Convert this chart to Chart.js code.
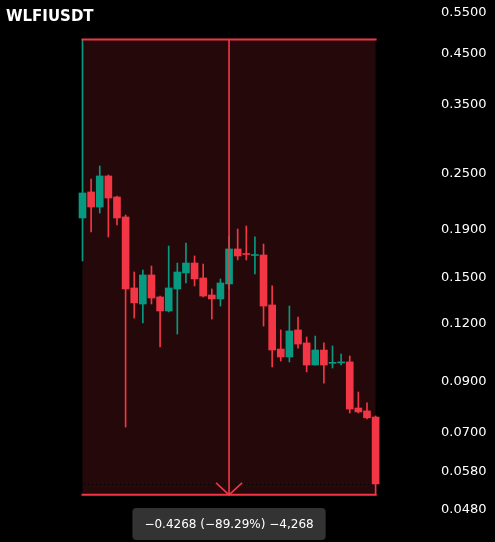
<!DOCTYPE html>
<html>
<head>
<meta charset="utf-8">
<script src="https://cdn.jsdelivr.net/npm/chart.js@4.4.1/dist/chart.umd.min.js"></script>
<style>
  html, body { margin: 0; padding: 0; background: #000; }
  #wrap { position: relative; width: 495px; height: 542px; background: #000; }
</style>
</head>
<body>
<div id="wrap"><canvas id="c"></canvas></div>
<script>
// ---- data ----
const symbol = "WLFIUSDT";
const candleIndex = [0,1,2,3,4,5,6,7,8,9,10,11,12,13,14,15,16,17,18,19,20,21,22,23,24,25,26,27,28,29,30,31,32,33,34];
const opens  = [0.1992,0.2263,0.2102,0.2448,0.2208,0.2002,0.1413,0.1306,0.1506,0.1352,0.1262,0.1406,0.1521,0.1597,0.1484,0.1365,0.1339,0.1441,0.1711,0.1673,0.1657,0.1661,0.1300,0.1047,0.1007,0.1150,0.1079,0.0968,0.1042,0.0976,0.0978,0.0983,0.0784,0.0773,0.0750];
const highs  = [0.4780,0.2412,0.2571,0.2460,0.2219,0.2021,0.1528,0.1543,0.1574,0.1358,0.1736,0.1597,0.1762,0.1653,0.1589,0.1406,0.1477,0.1823,0.1887,0.1915,0.1815,0.1753,0.1427,0.1150,0.1293,0.1225,0.1111,0.1116,0.1079,0.1063,0.1022,0.1012,0.0848,0.0804,0.0754];
const lows   = [0.1613,0.1860,0.2041,0.1815,0.1925,0.0714,0.1219,0.1190,0.1306,0.1058,0.1256,0.1127,0.1448,0.1427,0.1352,0.1213,0.1293,0.1406,0.1621,0.1621,0.1513,0.1172,0.0959,0.0987,0.0983,0.1052,0.0936,0.0968,0.0886,0.0954,0.0968,0.0765,0.0765,0.0743,0.0512];
const closes = [0.2252,0.2102,0.2448,0.2197,0.1992,0.1406,0.1313,0.1506,0.1345,0.1262,0.1413,0.1528,0.1597,0.1477,0.1358,0.1339,0.1448,0.1711,0.1653,0.1665,0.1665,0.1293,0.1042,0.1007,0.1144,0.1073,0.0968,0.1042,0.0968,0.0981,0.0983,0.0780,0.0769,0.0747,0.0540];
const yTickValues = [0.55,0.45,0.35,0.25,0.19,0.15,0.12,0.09,0.07,0.058,0.048];
const priceTick = 0.0001;

// ---- styling ----
const UP = '#089981', DOWN = '#f23645';
const colors = opens.map((o, i) => closes[i] >= o ? UP : DOWN);

const wickData = candleIndex.map(i => ({ x: i, y: [lows[i], highs[i]] }));
const bodyData = candleIndex.map(i => ({ x: i, y: [opens[i], closes[i]] }));

function fmtNum(v, d) {
  const s = Math.abs(v).toFixed(d);
  return (v < 0 ? '\u2212' : '') + s;
}

const measurePlugin = {
  id: 'measure',
  beforeDatasetsDraw(chart) {
    const { ctx, scales: { x, y }, chartArea } = chart;
    const n = candleIndex.length - 1;
    const x0 = x.getPixelForValue(candleIndex[0]);
    const x1 = x.getPixelForValue(candleIndex[n]);
    const yT = y.getPixelForValue(highs[0]);
    const yB = y.getPixelForValue(lows[n]);
    ctx.save();
    ctx.fillStyle = 'rgba(242,54,69,0.15)';
    ctx.fillRect(x0, yT, x1 - x0, yB - yT);
    // last price dotted line
    const yc = Math.round(y.getPixelForValue(closes[n])) + 0.5;
    ctx.strokeStyle = '#000';
    ctx.lineWidth = 1;
    ctx.setLineDash([1, 3]);
    ctx.beginPath();
    ctx.moveTo(chartArea.left, yc);
    ctx.lineTo(chartArea.right, yc);
    ctx.stroke();
    ctx.restore();
  },
  afterDatasetsDraw(chart) {
    const { ctx, scales: { x, y } } = chart;
    const n = candleIndex.length - 1;
    const x0 = x.getPixelForValue(candleIndex[0]);
    const x1 = x.getPixelForValue(candleIndex[n]);
    const yT = y.getPixelForValue(highs[0]);
    const yB = y.getPixelForValue(lows[n]);
    const xm = x.getPixelForValue((candleIndex[0] + candleIndex[n]) / 2);
    ctx.save();
    ctx.strokeStyle = DOWN;
    ctx.lineWidth = 2;
    ctx.beginPath();
    ctx.moveTo(x0 - 1, yT); ctx.lineTo(x1 + 1, yT);
    ctx.moveTo(x0 - 1, yB); ctx.lineTo(x1 + 1, yB);
    ctx.stroke();
    ctx.lineWidth = 1.6;
    ctx.beginPath();
    ctx.moveTo(xm, yT); ctx.lineTo(xm, yB);
    ctx.moveTo(xm - 13, yB - 12); ctx.lineTo(xm, yB); ctx.lineTo(xm + 13, yB - 12);
    ctx.stroke();
    ctx.restore();
  },
  afterDraw(chart) {
    const { ctx, scales: { x, y } } = chart;
    const n = candleIndex.length - 1;
    const x0 = x.getPixelForValue(candleIndex[0]);
    const x1 = x.getPixelForValue(candleIndex[n]);
    const xm = (x0 + x1) / 2;
    const delta = lows[n] - highs[0];
    const pct = delta / highs[0] * 100;
    const ticks = Math.round(delta / priceTick);
    const tickStr = (ticks < 0 ? '\u2212' : '') + Math.abs(ticks).toLocaleString('en-US');
    const text = fmtNum(delta, 4) + ' (' + fmtNum(pct, 2) + '%) ' + tickStr;
    ctx.save();
    ctx.font = '12px "DejaVu Sans"';
    const tw = ctx.measureText(text).width;
    const bw = tw + 24, bh = 32, bx = xm - bw / 2, by = 508, r = 4;
    ctx.fillStyle = '#333333';
    ctx.beginPath();
    ctx.moveTo(bx + r, by);
    ctx.arcTo(bx + bw, by, bx + bw, by + bh, r);
    ctx.arcTo(bx + bw, by + bh, bx, by + bh, r);
    ctx.arcTo(bx, by + bh, bx, by, r);
    ctx.arcTo(bx, by, bx + bw, by, r);
    ctx.closePath();
    ctx.fill();
    ctx.fillStyle = '#ffffff';
    ctx.textAlign = 'center';
    ctx.textBaseline = 'middle';
    ctx.fillText(text, xm, by + bh / 2 + 0.5);
    // title
    ctx.font = 'bold 15px "DejaVu Sans"';
    ctx.textAlign = 'left';
    ctx.textBaseline = 'alphabetic';
    ctx.fillText(symbol, 6, 21);
    ctx.restore();
  }
};

new Chart(document.getElementById('c'), {
  type: 'bar',
  data: {
    datasets: [
      { label: 'wick', data: wickData, backgroundColor: colors, barThickness: 1, grouped: false, borderWidth: 0, order: 2 },
      { label: 'body', data: bodyData, backgroundColor: colors, barThickness: 7, grouped: false, borderWidth: 0, order: 1 }
    ]
  },
  options: {
    responsive: true,
    maintainAspectRatio: false,
    devicePixelRatio: 1,
    animation: false,
    layout: { padding: 0 },
    plugins: { legend: { display: false }, tooltip: { enabled: false }, title: { display: false } },
    scales: {
      x: {
        type: 'linear',
        display: false,
        offset: false,
        min: -9.57,
        max: 40.31
      },
      y: {
        type: 'logarithmic',
        position: 'right',
        min: 0.04062,
        max: 0.5805,
        grid: { display: false, drawTicks: false },
        border: { display: false },
        afterBuildTicks(scale) { scale.ticks = yTickValues.map(v => ({ value: v })); },
        afterFit(scale) { scale.width = 65; scale.paddingTop = 0; scale.paddingBottom = 0; },
        ticks: {
          color: '#ffffff',
          padding: 11,
          labelOffset: 2,
          font: { family: '"DejaVu Sans"', size: 13 },
          callback: v => Number(v).toFixed(4)
        }
      }
    }
  },
  plugins: [measurePlugin]
});
</script>
</body>
</html>
